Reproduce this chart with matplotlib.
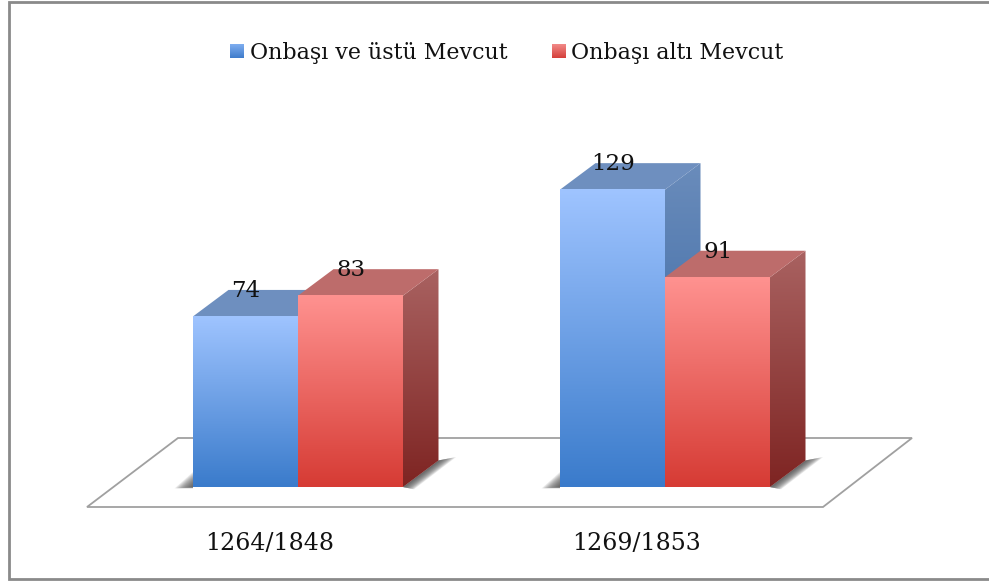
import numpy as np
import matplotlib
matplotlib.use('Agg')
import matplotlib.pyplot as plt
from matplotlib.colors import LinearSegmentedColormap
from matplotlib.patches import Polygon

plt.rcParams['font.family'] = ['DejaVu Serif']

# data
periods = ['1264/1848', '1269/1853']
names = ['Onbaşı ve üstü Mevcut', 'Onbaşı altı Mevcut']
upper = [74, 129]
lower = [83, 91]

W, H = 989, 581
px_per_val = 2.305
px_per_cat = 367.0
x0_px, y0_px = 298.0, 487.0
bar_w = 105 / px_per_cat
dx = 35.5 / px_per_cat
dy = 26.5 / px_per_val

fig = plt.figure(figsize=(W / 100, H / 100), dpi=100)

# pixel axes for frame, floor and legend
bg = fig.add_axes([0, 0, 1, 1], zorder=0)
bg.set_xlim(0, W)
bg.set_ylim(H, 0)
bg.axis('off')

# data axes on top
ax = fig.add_axes([0, 0, 1, 1], zorder=1)
ax.set_xlim(-x0_px / px_per_cat, (W - x0_px) / px_per_cat)
ax.set_ylim((y0_px - H) / px_per_val, y0_px / px_per_val)
ax.axis('off')
ax.patch.set_alpha(0)

# frame is open on the right
bg.plot([W, 8.5, 8.5, W], [2.2, 2.2, 578.5, 578.5], color='#8a8a8a', lw=2,
        solid_joinstyle='miter')
bg.add_patch(Polygon([(87, 507), (823, 507), (912, 438), (178, 438)],
                     closed=True, fc='white', ec='#a0a0a0', lw=1.3))


def grad(a, top, bottom, extent, clip=None, zorder=2):
    cm = LinearSegmentedColormap.from_list('g', [top, bottom])
    im = a.imshow(np.linspace(0, 1, 256).reshape(-1, 1), cmap=cm, extent=extent,
                  aspect='auto', zorder=zorder, interpolation='bilinear',
                  origin='upper', vmin=0, vmax=1)
    if clip is not None:
        im.set_clip_path(clip)
    return im


def shadow(x_left, x_right):
    # soft shadow at the base, many thin layers so it fades out
    for k in np.linspace(1.0, 0.08, 14):
        ax.add_patch(Polygon([(x_right, 0), (x_right + dx, dy),
                              (x_right + dx + 0.048 * k, dy + 1.5 * k),
                              (x_right + 0.03 * k, -1.0 * k)],
                             closed=True, fc='#4a4a4a', ec='none', alpha=0.11, zorder=1))
        ax.add_patch(Polygon([(x_left, -0.6 * k), (x_left - 0.05 * k, -0.6 * k), (x_left, 6.5 * k)],
                             closed=True, fc='#4a4a4a', ec='none', alpha=0.11, zorder=1))


def bar3d(x, v, front, top_c, side, z):
    # side face
    side_poly = Polygon([(x + bar_w, 0), (x + bar_w + dx, dy), (x + bar_w + dx, v + dy), (x + bar_w, v)],
                        closed=True, transform=ax.transData, fc='none', ec='none')
    ax.add_patch(side_poly)
    grad(ax, side[0], side[1], [x + bar_w, x + bar_w + dx, 0, v + dy], clip=side_poly, zorder=z)
    # top face
    ax.add_patch(Polygon([(x, v), (x + dx, v + dy), (x + bar_w + dx, v + dy), (x + bar_w, v)],
                         closed=True, fc=top_c, ec='none', zorder=z))
    # front face
    grad(ax, front[0], front[1], [x, x + bar_w, 0, v], zorder=z + 0.1)


for i in range(len(periods)):
    shadow(i - bar_w, i + bar_w)
    bar3d(i - bar_w, upper[i], ('#9FC4FF', '#3A7BCB'), '#6E8FBF', ('#6A8CBB', '#2F5F9E'), 2)
    bar3d(i, lower[i], ('#FF9290', '#D63B34'), '#BD6C6B', ('#A96261', '#7E2422'), 3)
    ax.text(i - bar_w / 2 + 0.001, upper[i] + dy - 0.5, str(upper[i]), ha='center', va='center',
            fontsize=16.5, color='#111111', zorder=5)
    ax.text(i + bar_w / 2 + 0.001, lower[i] + dy - 0.5, str(lower[i]), ha='center', va='center',
            fontsize=16.5, color='#111111', zorder=5)
    ax.text(i - bar_w / 2 + 0.065, -24.5, periods[i], ha='center', va='center',
            fontsize=17, color='#111111', zorder=5)

# legend
grad(bg, '#7FAEF0', '#3F7CCB', [230, 244, 58, 44], zorder=3)
bg.text(250, 53.5, names[0], ha='left', va='center', fontsize=15.9, color='#111111')
grad(bg, '#F28A88', '#D43F3A', [552, 566, 58, 44], zorder=3)
bg.text(571, 53.5, names[1], ha='left', va='center', fontsize=15.9, color='#111111')

# imshow resets limits
bg.set_xlim(0, W)
bg.set_ylim(H, 0)
ax.set_xlim(-x0_px / px_per_cat, (W - x0_px) / px_per_cat)
ax.set_ylim((y0_px - H) / px_per_val, y0_px / px_per_val)

fig.savefig('out.png', dpi=100)
